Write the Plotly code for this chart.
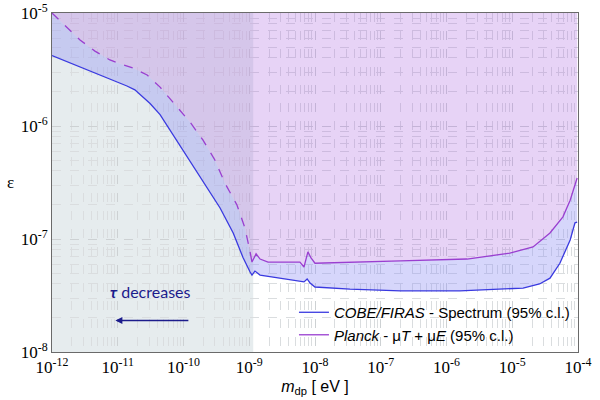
import numpy as np
import plotly.graph_objects as go

# ---------------- data ----------------
# COBE/FIRAS spectrum bound (lower curve)
firas_m = [1.0e-12, 3.2e-12, 1.0e-11, 1.38e-11, 1.82e-11, 3.1e-11, 4.4e-11, 7.4e-11,
           1.26e-10, 2.3e-10, 3.6e-10, 5.7e-10, 8.0e-10, 1.03e-9, 1.1e-9, 1.22e-9,
           1.46e-9, 2.9e-9, 5.9e-9, 6.8e-9, 7.6e-9, 8.4e-9, 1.0e-8, 3.4e-8, 2.0e-7,
           1.6e-6, 1.46e-5, 2.6e-5, 3.75e-5, 5.3e-5, 7.6e-5, 9.0e-5, 9.7e-5]
firas_eps = [4.2e-6, 3.2e-6, 2.45e-6, 2.26e-6, 2.09e-6, 1.58e-6, 1.26e-6, 7.9e-7,
             4.9e-7, 2.8e-7, 1.88e-7, 1.13e-7, 6.9e-8, 5.1e-8, 4.8e-8, 5.2e-8,
             4.8e-8, 4.5e-8, 4.25e-8, 4.17e-8, 4.43e-8, 4.08e-8, 3.76e-8, 3.6e-8, 3.47e-8,
             3.47e-8, 3.68e-8, 4.0e-8, 4.5e-8, 6.1e-8, 9.8e-8, 1.39e-7, 1.41e-7]

# Planck mu-type bound, dashed part
planck_dash_m = [1.0e-12, 2.67e-12, 4.5e-12, 7.6e-12, 1.12e-11, 1.7e-11, 2.8e-11, 4.4e-11,
                 8.0e-11, 1.26e-10, 1.98e-10, 3.0e-10, 4.3e-10, 6.5e-10, 8.6e-10, 9.6e-10,
                 1.03e-9]
planck_dash_eps = [1.0e-5, 5.77e-6, 4.6e-6, 3.84e-6, 3.54e-6, 3.26e-6, 2.83e-6, 2.21e-6,
                   1.47e-6, 1.08e-6, 7.5e-7, 5.0e-7, 3.1e-7, 2.0e-7, 1.25e-7, 8.9e-8,
                   7.7e-8]
# Planck solid part
planck_m = [1.03e-9, 1.1e-9, 1.27e-9, 1.46e-9, 1.93e-9, 5.9e-9, 6.8e-9, 7.8e-9, 8.7e-9,
            1.0e-8, 2.0e-7, 2.05e-6, 9.2e-6, 2.07e-5, 3.75e-5, 5.9e-5, 7.6e-5, 9.7e-5]
planck_eps = [7.7e-8, 6.25e-8, 7.4e-8, 6.65e-8, 6.25e-8, 6.25e-8, 5.65e-8, 7.7e-8, 6.8e-8,
              6.1e-8, 6.4e-8, 6.65e-8, 7.5e-8, 8.5e-8, 1.13e-7, 1.57e-7, 2.2e-7, 3.47e-7]

x_range = [1e-12, 1e-4]
y_range = [1e-8, 1e-5]
gray_edge = 1.15e-9          # upper mass edge of the grey band

x_ticks = [1e-12, 1e-11, 1e-10, 1e-9, 1e-8, 1e-7, 1e-6, 1e-5, 1e-4]
x_ticktext = ["10<sup>-12</sup>", "10<sup>-11</sup>", "10<sup>-10</sup>", "10<sup>-9</sup>",
              "10<sup>-8</sup>", "10<sup>-7</sup>", "10<sup>-6</sup>", "10<sup>-5</sup>",
              "10<sup>-4</sup>"]
y_ticks = [1e-8, 1e-7, 1e-6, 1e-5]
y_ticktext = ["10<sup>-8</sup>", "10<sup>-7</sup>", "10<sup>-6</sup>", "10<sup>-5</sup>"]

arrow_from_m, arrow_to_m, arrow_eps = 1.25e-10, 9.2e-12, 1.9e-8
label_m, label_eps = 3.1e-11, 3.4e-8

BLUE = "#3a3ae0"
PURPLE = "#9a3fd0"

# ---------------- figure ----------------
fig = go.Figure()

planck_all_m = planck_dash_m + planck_m[1:]
planck_all_eps = planck_dash_eps + planck_eps[1:]

# purple excluded region (above Planck)
fig.add_trace(go.Scatter(
    x=planck_all_m + [planck_all_m[-1], planck_all_m[0]],
    y=planck_all_eps + [y_range[1], y_range[1]],
    fill="toself", fillcolor="rgba(175,110,225,0.30)", mode="none",
    showlegend=False, hoverinfo="skip"))

# hatched band between FIRAS and Planck
fig.add_trace(go.Scatter(
    x=firas_m + planck_all_m[::-1],
    y=firas_eps + planck_all_eps[::-1],
    fill="toself", fillcolor="rgba(0,0,0,0)", mode="none",
    fillpattern=dict(shape=".", fgcolor="#6a6af0", bgcolor="rgba(200,200,250,0.2)",
                     size=2, solidity=0.5),
    showlegend=False, hoverinfo="skip"))

# lines
fig.add_trace(go.Scatter(x=planck_dash_m, y=planck_dash_eps, mode="lines",
                         line=dict(color=PURPLE, width=1.3, dash="dash"),
                         showlegend=False, hoverinfo="skip"))
fig.add_trace(go.Scatter(x=firas_m, y=firas_eps, mode="lines",
                         line=dict(color=BLUE, width=1.3),
                         name="<i>COBE/FIRAS</i> - Spectrum (95% c.l.)"))
fig.add_trace(go.Scatter(x=planck_m, y=planck_eps, mode="lines",
                         line=dict(color=PURPLE, width=1.3),
                         name="<i>Planck</i> - μ<i>T</i> + μ<i>E</i> (95% c.l.)"))

# grey band
fig.add_shape(type="rect", xref="x", yref="paper", x0=x_range[0], x1=gray_edge,
              y0=0, y1=1, fillcolor="#e6ecee", line_width=0, layer="below")

# annotations
fig.add_annotation(x=np.log10(arrow_to_m), y=np.log10(arrow_eps),
                   ax=np.log10(arrow_from_m), ay=np.log10(arrow_eps),
                   xref="x", yref="y", axref="x", ayref="y", text="",
                   showarrow=True, arrowhead=2, arrowsize=1, arrowwidth=1.4,
                   arrowcolor="#1c1c8c")
fig.add_annotation(x=np.log10(label_m), y=np.log10(label_eps), xref="x", yref="y",
                   text="<b><i>τ</i></b> decreases", showarrow=False,
                   font=dict(family="Lato", size=16, color="#1c1c8c"))
fig.add_annotation(x=-0.09, y=0.5, xref="paper", yref="paper", text="ε",
                   showarrow=False, font=dict(family="Liberation Serif", size=17, color="black"))

fig.update_xaxes(type="log", range=[np.log10(x_range[0]), np.log10(x_range[1])],
                 tickvals=x_ticks, ticktext=x_ticktext, ticks="", automargin=False,
                 tickfont=dict(family="Liberation Serif", size=17, color="black"),
                 showline=True, linecolor="#6a6a6a", linewidth=1, mirror=True,
                 showgrid=True, gridcolor="#cdd1d3", griddash="dash",
                 minor=dict(dtick="D1", showgrid=True, gridcolor="#dadddf", griddash="dash"),
                 title=dict(text="<i>m</i><sub>dp</sub> [ eV ]", standoff=4,
                            font=dict(family="Liberation Sans", size=16, color="black")))
fig.update_yaxes(type="log", range=[np.log10(y_range[0]), np.log10(y_range[1])],
                 tickvals=y_ticks, ticktext=y_ticktext, ticks="", automargin=False,
                 tickfont=dict(family="Liberation Serif", size=17, color="black"),
                 showline=True, linecolor="#6a6a6a", linewidth=1, mirror=True,
                 showgrid=True, gridcolor="#cdd1d3", griddash="dash",
                 minor=dict(dtick="D1", showgrid=True, gridcolor="#dadddf", griddash="dash"))

fig.update_layout(
    width=600, height=400,
    margin=dict(l=52, r=22, t=13, b=48),
    paper_bgcolor="white", plot_bgcolor="white",
    legend=dict(x=0.46, y=0.084, xanchor="left", yanchor="middle",
                bgcolor="rgba(0,0,0,0)", tracegroupgap=0,
                font=dict(family="Liberation Sans", size=15, color="black")),
)

fig.write_html("out.html")
